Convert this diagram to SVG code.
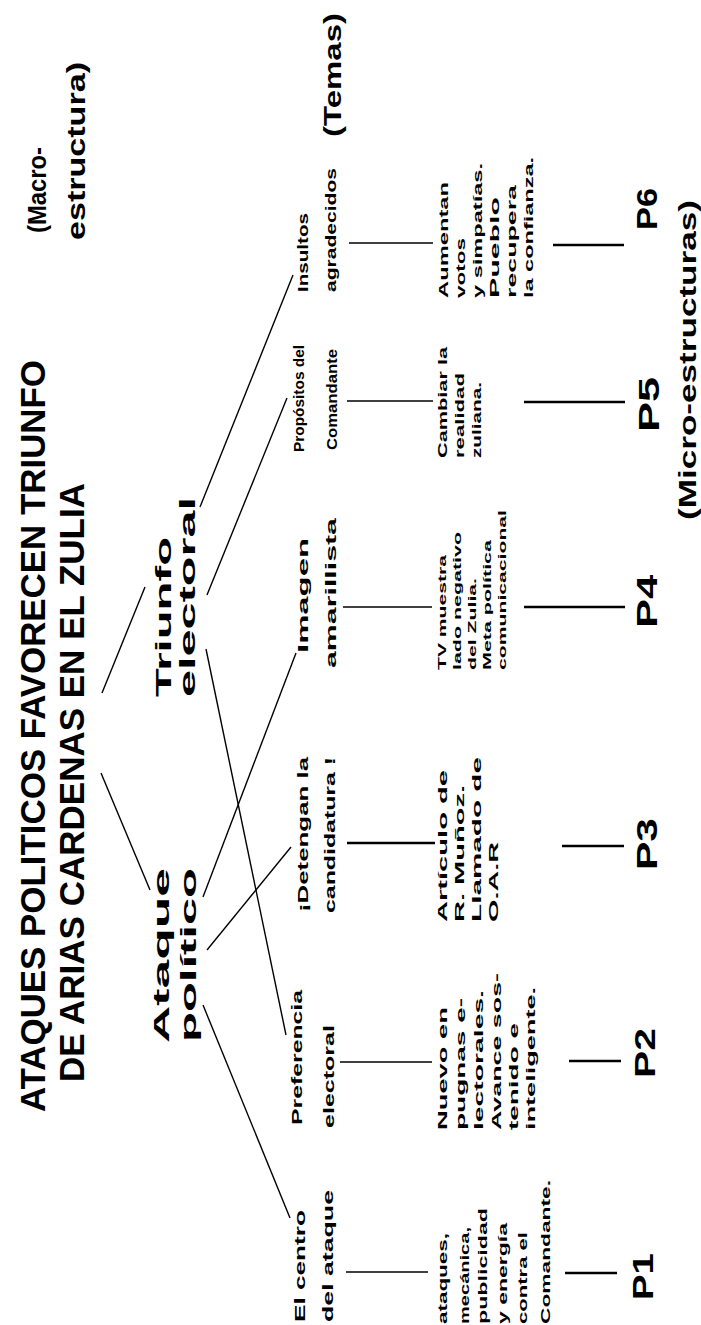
<svg xmlns="http://www.w3.org/2000/svg" width="701" height="1325" viewBox="0 0 701 1325">
<style>
text{font-family:"Liberation Sans",Arial,sans-serif;font-weight:700;fill:#000}
.ti{font-size:35px}
.mc{font-size:26px}
.tm{font-size:24px}
.l2{font-size:22px}
.l3{font-size:15px}
.mi{font-size:12px}
.ms{font-size:11px}
.p{font-size:30px}
.c line{stroke:#000;stroke-width:1.4;fill:none}
.c .h{stroke-width:1.6}
.c .k{stroke-width:2.6}
</style>
<rect width="701" height="1325" fill="#fff"/>
<g id="title">
<text class="ti" transform="translate(45,1112) rotate(-90)" textLength="752" lengthAdjust="spacingAndGlyphs">ATAQUES POLITICOS FAVORECEN TRIUNFO</text>
<text class="ti" transform="translate(84,1082) rotate(-90)" textLength="599" lengthAdjust="spacingAndGlyphs">DE ARIAS CARDENAS EN EL ZULIA</text>
</g>
<g id="macro">
<text class="mc" transform="translate(46,233) rotate(-90)" textLength="86" lengthAdjust="spacingAndGlyphs">(Macro-</text>
<text class="mc" transform="translate(85,240) rotate(-90)" textLength="178" lengthAdjust="spacingAndGlyphs">estructura)</text>
</g>
<g id="temas">
<text class="tm" transform="translate(341,137) rotate(-90)" textLength="124" lengthAdjust="spacingAndGlyphs">(Temas)</text>
</g>
<g id="micro-label">
<text class="tm" transform="translate(696,520) rotate(-90)" textLength="320" lengthAdjust="spacingAndGlyphs">(Micro-estructuras)</text>
</g>
<g id="ataque">
<text class="l2" transform="translate(169,1043) rotate(-90)" textLength="175" lengthAdjust="spacingAndGlyphs">Ataque</text>
<text class="l2" transform="translate(196,1042) rotate(-90)" textLength="174" lengthAdjust="spacingAndGlyphs">político</text>
</g>
<g id="triunfo">
<text class="l2" transform="translate(171,697) rotate(-90)" textLength="160" lengthAdjust="spacingAndGlyphs">Triunfo</text>
<text class="l2" transform="translate(195,697) rotate(-90)" textLength="200" lengthAdjust="spacingAndGlyphs">electoral</text>
</g>
<g id="centro">
<text class="l3" transform="translate(305,1322) rotate(-90)" textLength="112" lengthAdjust="spacingAndGlyphs">El centro</text>
<text class="l3" transform="translate(333,1322) rotate(-90)" textLength="132" lengthAdjust="spacingAndGlyphs">del ataque</text>
</g>
<g id="preferencia">
<text class="l3" transform="translate(302,1125) rotate(-90)" textLength="135" lengthAdjust="spacingAndGlyphs">Preferencia</text>
<text class="l3" transform="translate(334,1128) rotate(-90)" textLength="103" lengthAdjust="spacingAndGlyphs">electoral</text>
</g>
<g id="detengan">
<text class="l3" transform="translate(308,912) rotate(-90)" textLength="155" lengthAdjust="spacingAndGlyphs">¡Detengan la</text>
<text class="l3" transform="translate(335,913) rotate(-90)" textLength="156" lengthAdjust="spacingAndGlyphs">candidatura !</text>
</g>
<g id="imagen">
<text class="l3" transform="translate(308,653) rotate(-90)" textLength="115" lengthAdjust="spacingAndGlyphs">Imagen</text>
<text class="l3" transform="translate(336,668) rotate(-90)" textLength="150" lengthAdjust="spacingAndGlyphs">amarillista</text>
</g>
<g id="propositos">
<text class="l3" transform="translate(304,452) rotate(-90)" textLength="107" lengthAdjust="spacingAndGlyphs">Propósitos del</text>
<text class="l3" transform="translate(337,450) rotate(-90)" textLength="101" lengthAdjust="spacingAndGlyphs">Comandante</text>
</g>
<g id="insultos">
<text class="l3" transform="translate(308,292) rotate(-90)" textLength="79" lengthAdjust="spacingAndGlyphs">Insultos</text>
<text class="l3" transform="translate(336,292) rotate(-90)" textLength="124" lengthAdjust="spacingAndGlyphs">agradecidos</text>
</g>
<g id="m1">
<text class="mi" transform="translate(447,1324) rotate(-90)" textLength="91" lengthAdjust="spacingAndGlyphs">ataques,</text>
<text class="mi" transform="translate(469,1324) rotate(-90)" textLength="97" lengthAdjust="spacingAndGlyphs">mecánica,</text>
<text class="mi" transform="translate(487,1324) rotate(-90)" textLength="116" lengthAdjust="spacingAndGlyphs">publicidad</text>
<text class="mi" transform="translate(507,1324) rotate(-90)" textLength="101" lengthAdjust="spacingAndGlyphs">y energía</text>
<text class="mi" transform="translate(527,1324) rotate(-90)" textLength="92" lengthAdjust="spacingAndGlyphs">contra el</text>
<text class="mi" transform="translate(550,1324) rotate(-90)" textLength="144" lengthAdjust="spacingAndGlyphs">Comandante.</text>
</g>
<g id="m2">
<text class="mi" transform="translate(447,1130) rotate(-90)" textLength="123" lengthAdjust="spacingAndGlyphs">Nuevo en</text>
<text class="mi" transform="translate(465,1130) rotate(-90)" textLength="132" lengthAdjust="spacingAndGlyphs">pugnas e-</text>
<text class="mi" transform="translate(483,1130) rotate(-90)" textLength="140" lengthAdjust="spacingAndGlyphs">lectorales.</text>
<text class="mi" transform="translate(501,1130) rotate(-90)" textLength="157" lengthAdjust="spacingAndGlyphs">Avance sos-</text>
<text class="mi" transform="translate(518,1130) rotate(-90)" textLength="107" lengthAdjust="spacingAndGlyphs">tenido e</text>
<text class="mi" transform="translate(535,1130) rotate(-90)" textLength="143" lengthAdjust="spacingAndGlyphs">inteligente.</text>
</g>
<g id="m3">
<text class="mi" transform="translate(447,922) rotate(-90)" textLength="152" lengthAdjust="spacingAndGlyphs">Artículo de</text>
<text class="mi" transform="translate(464,922) rotate(-90)" textLength="137" lengthAdjust="spacingAndGlyphs">R. Muñoz.</text>
<text class="mi" transform="translate(481,922) rotate(-90)" textLength="165" lengthAdjust="spacingAndGlyphs">Llamado de</text>
<text class="mi" transform="translate(498,922) rotate(-90)" textLength="80" lengthAdjust="spacingAndGlyphs">O.A.R</text>
</g>
<g id="m4">
<text class="ms" transform="translate(446,670) rotate(-90)" textLength="115" lengthAdjust="spacingAndGlyphs">TV muestra</text>
<text class="ms" transform="translate(461,670) rotate(-90)" textLength="138" lengthAdjust="spacingAndGlyphs">lado negativo</text>
<text class="ms" transform="translate(476,670) rotate(-90)" textLength="92" lengthAdjust="spacingAndGlyphs">del Zulia.</text>
<text class="ms" transform="translate(491,670) rotate(-90)" textLength="130" lengthAdjust="spacingAndGlyphs">Meta política</text>
<text class="ms" transform="translate(506,670) rotate(-90)" textLength="160" lengthAdjust="spacingAndGlyphs">comunicacional</text>
</g>
<g id="m5">
<text class="mi" transform="translate(447,458) rotate(-90)" textLength="111" lengthAdjust="spacingAndGlyphs">Cambiar la</text>
<text class="mi" transform="translate(464,458) rotate(-90)" textLength="85" lengthAdjust="spacingAndGlyphs">realidad</text>
<text class="mi" transform="translate(481,458) rotate(-90)" textLength="76" lengthAdjust="spacingAndGlyphs">zuliana.</text>
</g>
<g id="m6">
<text class="mi" transform="translate(448,298) rotate(-90)" textLength="116" lengthAdjust="spacingAndGlyphs">Aumentan</text>
<text class="mi" transform="translate(465,298) rotate(-90)" textLength="60" lengthAdjust="spacingAndGlyphs">votos</text>
<text class="mi" transform="translate(482,298) rotate(-90)" textLength="135" lengthAdjust="spacingAndGlyphs">y simpatías.</text>
<text class="mi" transform="translate(499,298) rotate(-90)" textLength="101" lengthAdjust="spacingAndGlyphs">Pueblo</text>
<text class="mi" transform="translate(516,298) rotate(-90)" textLength="113" lengthAdjust="spacingAndGlyphs">recupera</text>
<text class="mi" transform="translate(533,298) rotate(-90)" textLength="141" lengthAdjust="spacingAndGlyphs">la confianza.</text>
</g>
<g id="p1"><text class="p" transform="translate(653,1300) rotate(-90)" textLength="47" lengthAdjust="spacingAndGlyphs">P1</text></g>
<g id="p2"><text class="p" transform="translate(655,1078) rotate(-90)" textLength="50" lengthAdjust="spacingAndGlyphs">P2</text></g>
<g id="p3"><text class="p" transform="translate(657,870) rotate(-90)" textLength="52" lengthAdjust="spacingAndGlyphs">P3</text></g>
<g id="p4"><text class="p" transform="translate(657,628) rotate(-90)" textLength="53" lengthAdjust="spacingAndGlyphs">P4</text></g>
<g id="p5"><text class="p" transform="translate(659,432) rotate(-90)" textLength="55" lengthAdjust="spacingAndGlyphs">P5</text></g>
<g id="p6"><text class="p" transform="translate(657,230) rotate(-90)" textLength="42" lengthAdjust="spacingAndGlyphs">P6</text></g>
<g id="connectors" class="c">
<line x1="101" y1="773" x2="150" y2="890"/>
<line x1="102" y1="693" x2="145" y2="587"/>
<line x1="203" y1="1005" x2="290" y2="1218"/>
<line x1="207" y1="950" x2="291" y2="847"/>
<line x1="203" y1="897" x2="296" y2="653"/>
<line x1="206" y1="649" x2="286" y2="1035"/>
<line x1="207" y1="595" x2="287" y2="398"/>
<line x1="200" y1="507" x2="293" y2="275"/>
<line class="h" x1="346" y1="1272" x2="428" y2="1272"/>
<line class="h" x1="340" y1="1062" x2="432" y2="1062"/>
<line class="k" x1="347" y1="843" x2="435" y2="843"/>
<line class="h" x1="343" y1="607" x2="432" y2="607"/>
<line class="h" x1="347" y1="401" x2="433" y2="401"/>
<line class="h" x1="349" y1="243" x2="433" y2="243"/>
<line class="k" x1="565" y1="1273" x2="617" y2="1273"/>
<line class="k" x1="569" y1="1061" x2="621" y2="1061"/>
<line class="k" x1="562" y1="846" x2="624" y2="846"/>
<line class="k" x1="524" y1="607" x2="625" y2="607"/>
<line class="k" x1="524" y1="402" x2="625" y2="402"/>
<line class="k" x1="553" y1="245" x2="624" y2="245"/>
</g>
</svg>
